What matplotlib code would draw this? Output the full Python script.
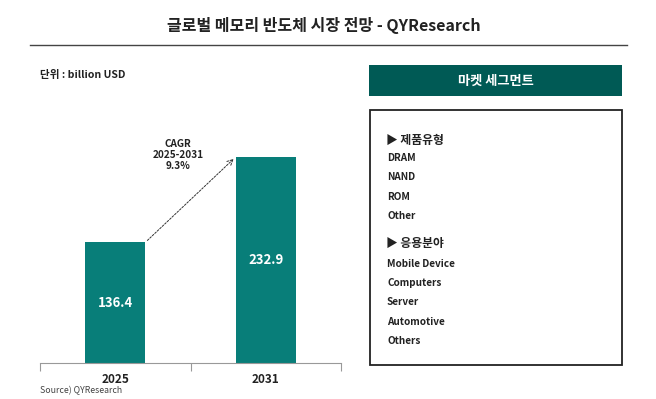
import matplotlib
matplotlib.use("Agg")
import matplotlib.pyplot as plt
from matplotlib.patches import Rectangle

plt.rcParams['font.family'] = ['Noto Sans CJK KR', 'DejaVu Sans']

title = "글로벌 메모리 반도체 시장 전망 - QYResearch"
unit_label = "단위 : billion USD"
years = ["2025", "2031"]
values = [136.4, 232.9]
cagr_text = "CAGR\n2025-2031\n9.3%"
source = "Source) QYResearch"
seg_header = "마켓 세그먼트"
seg_type_title = "▶ 제품유형"
seg_types = ["DRAM", "NAND", "ROM", "Other"]
seg_app_title = "▶ 응용분야"
seg_apps = ["Mobile Device", "Computers", "Server", "Automotive", "Others"]

W, H = 656, 399
fig = plt.figure(figsize=(W / 100, H / 100), dpi=100)

def fx(px):
    return px / W

def fy(py):
    return 1 - py / H

bar_color = "#087e79"
head_color = "#005a55"

# title
fig.text(fx(324), fy(26), title, ha="center", va="center", fontsize=11.5, fontweight="bold", color="#222222")
fig.add_artist(plt.Line2D([fx(30), fx(627)], [fy(45), fy(45)], color="#444444", lw=1.0))
fig.text(fx(40), fy(75), unit_label, ha="left", va="center", fontsize=7.6, fontweight="bold", color="#222222")

# bar chart
ax_left, ax_right, ax_bottom, ax_top = 40, 341, 363, 110
ax = fig.add_axes([fx(ax_left), fy(ax_bottom), fx(ax_right - ax_left), (ax_bottom - ax_top) / H])
xpos = list(range(len(years)))
bars = ax.bar(xpos, values, width=0.4, color=bar_color, zorder=2)
ymax = (ax_bottom - ax_top) / (ax_bottom - 157) * values[1]
ax.set_ylim(0, ymax)
ax.set_xlim(-0.5, 1.5)
for b, v in zip(bars, values):
    ax.text(b.get_x() + b.get_width() / 2, v / 2, f"{v}", ha="center", va="center",
            color="white", fontsize=9.5, fontweight="bold")
for s in ["top", "right", "left"]:
    ax.spines[s].set_visible(False)
ax.spines["bottom"].set_color("#999999")
ax.spines["bottom"].set_linewidth(0.8)
ax.set_yticks([])
ax.set_xticks(xpos)
ax.set_xticklabels(years, fontsize=8.5, fontweight="bold", color="#222222")
ax.tick_params(axis="x", which="major", length=0, pad=7)
ax.set_xticks([-0.5, 0.5, 1.5], minor=True)
ax.tick_params(axis="x", which="minor", length=6, color="#999999", width=0.8)

ax.annotate("", xy=(0.8, values[1]), xytext=(0.2, values[0]),
            arrowprops=dict(arrowstyle="->", color="#333333", lw=0.7, linestyle=(0, (2, 1.5))))
fig.text(fx(178), fy(155), cagr_text, ha="center", va="center", fontsize=7.2,
         fontweight="bold", color="#222222", linespacing=1.15)

fig.text(fx(40), fy(391), source, ha="left", va="center", fontsize=6.3, color="#444444")

# segment panel
fig.add_artist(Rectangle((fx(369), fy(96)), fx(622 - 369), (96 - 65) / H,
                         transform=fig.transFigure, facecolor=head_color, edgecolor="none"))
fig.text(fx(495.5), fy(81), seg_header, ha="center", va="center", fontsize=9.5,
         fontweight="bold", color="white")
fig.add_artist(Rectangle((fx(370), fy(365)), fx(622 - 370), (365 - 110) / H,
                         transform=fig.transFigure, facecolor="white", edgecolor="#222222", lw=1.3))

ys_types = [158, 177, 197, 216]
ys_apps = [264, 283, 302, 322, 341]
fig.text(fx(386), fy(140), seg_type_title, ha="left", va="center", fontsize=8.5, fontweight="bold", color="#222222")
for t, y in zip(seg_types, ys_types):
    fig.text(fx(387), fy(y), t, ha="left", va="center", fontsize=7.2, fontweight="bold", color="#222222")
fig.text(fx(386), fy(243), seg_app_title, ha="left", va="center", fontsize=8.5, fontweight="bold", color="#222222")
for t, y in zip(seg_apps, ys_apps):
    fig.text(fx(387), fy(y), t, ha="left", va="center", fontsize=7.2, fontweight="bold", color="#222222")

fig.savefig("out.png", dpi=100)
